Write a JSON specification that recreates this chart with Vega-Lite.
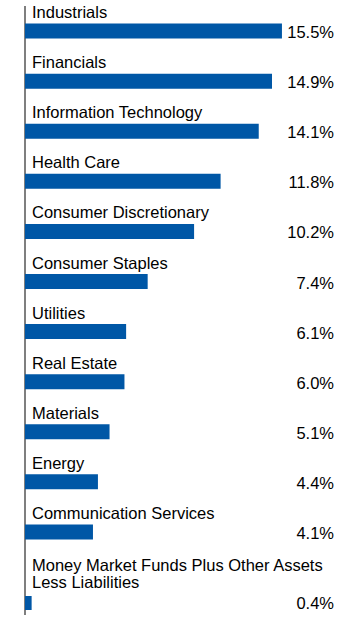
{
  "$schema": "https://vega.github.io/schema/vega-lite/v6.json",
  "padding": {"left": 24, "top": 5, "right": 27, "bottom": 3},
  "background": "white",
  "spacing": 0,
  "bounds": "flush",
  "config": {
    "view": {"stroke": null},
    "text": {"font": "Liberation Sans", "fontSize": 16.5, "color": "#000000"}
  },
  "datasets": {
    "sectors": [
      {"sector": "Industrials", "value": 0.155},
      {"sector": "Financials", "value": 0.149},
      {"sector": "Information Technology", "value": 0.141},
      {"sector": "Health Care", "value": 0.118},
      {"sector": "Consumer Discretionary", "value": 0.102},
      {"sector": "Consumer Staples", "value": 0.074},
      {"sector": "Utilities", "value": 0.061},
      {"sector": "Real Estate", "value": 0.060},
      {"sector": "Materials", "value": 0.051},
      {"sector": "Energy", "value": 0.044},
      {"sector": "Communication Services", "value": 0.041}
    ],
    "other": [
      {"sector": "Money Market Funds Plus Other Assets\nLess Liabilities", "value": 0.004}
    ]
  },
  "vconcat": [
    {
      "width": 309,
      "height": 551,
      "layer": [
        {
          "data": {"values": [{}]},
          "mark": {"type": "rule", "color": "#555555", "strokeWidth": 1.5},
          "encoding": {"x": {"datum": 0, "scale": {"domain": [0, 0.1864], "nice": false}, "axis": null}}
        },
        {
          "data": {"name": "sectors"},
          "mark": {"type": "bar", "size": 15, "color": "#0057a6"},
          "encoding": {
            "y": {"field": "sector", "type": "nominal", "sort": null, "axis": null, "scale": {"paddingInner": 0, "paddingOuter": 0}},
            "x": {"field": "value", "type": "quantitative", "scale": {"domain": [0, 0.1864], "nice": false}, "axis": null}
          }
        },
        {
          "data": {"name": "sectors"},
          "mark": {"type": "text", "align": "left", "baseline": "alphabetic", "dx": 7, "dy": -13},
          "encoding": {
            "y": {"field": "sector", "type": "nominal", "sort": null, "axis": null},
            "x": {"datum": 0},
            "text": {"field": "sector"}
          }
        },
        {
          "data": {"name": "sectors"},
          "mark": {"type": "text", "align": "right", "baseline": "alphabetic", "dy": 7},
          "encoding": {
            "y": {"field": "sector", "type": "nominal", "sort": null, "axis": null},
            "x": {"datum": 0.1864},
            "text": {"field": "value", "format": ".1%"}
          }
        }
      ]
    },
    {
      "width": 309,
      "height": 58,
      "layer": [
        {
          "data": {"values": [{}]},
          "mark": {"type": "rule", "color": "#555555", "strokeWidth": 1.5},
          "encoding": {"x": {"datum": 0, "scale": {"domain": [0, 0.1864], "nice": false}, "axis": null}}
        },
        {
          "data": {"name": "other"},
          "mark": {"type": "bar", "size": 14, "color": "#0057a6"},
          "encoding": {
            "y": {"field": "sector", "type": "nominal", "axis": null, "scale": {"paddingInner": 0, "paddingOuter": 0.7083, "align": 1}},
            "x": {"field": "value", "type": "quantitative", "scale": {"domain": [0, 0.1864], "nice": false}, "axis": null}
          }
        },
        {
          "data": {"name": "other"},
          "mark": {"type": "text", "align": "left", "baseline": "alphabetic", "dx": 7, "dy": -32, "lineBreak": "\n", "lineHeight": 17.5},
          "encoding": {
            "y": {"field": "sector", "type": "nominal", "axis": null},
            "x": {"datum": 0},
            "text": {"field": "sector"}
          }
        },
        {
          "data": {"name": "other"},
          "mark": {"type": "text", "align": "right", "baseline": "alphabetic", "dy": 6},
          "encoding": {
            "y": {"field": "sector", "type": "nominal", "axis": null},
            "x": {"datum": 0.1864},
            "text": {"field": "value", "format": ".1%"}
          }
        }
      ]
    }
  ]
}
